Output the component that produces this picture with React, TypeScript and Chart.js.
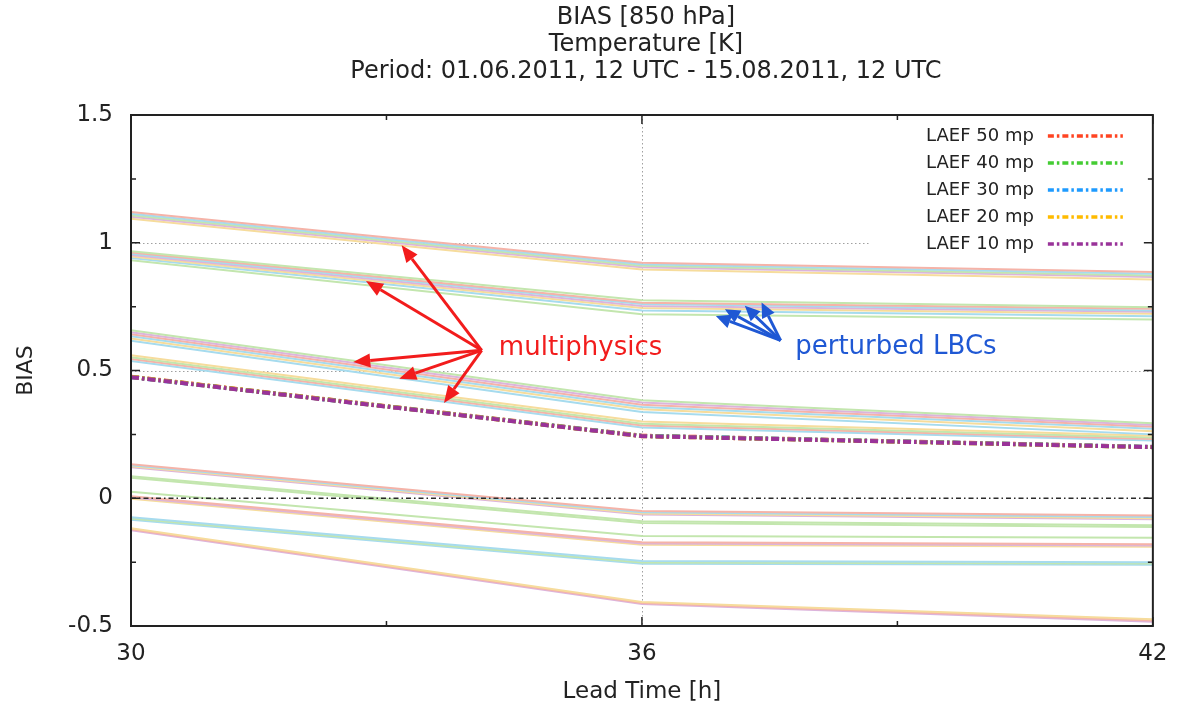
import { useEffect, useRef } from 'react';
import { Chart, registerables } from 'chart.js';

Chart.register(...registerables);

// ---------- data ----------
const leadTime = [30, 36, 42];
const xTickValues = [30, 36, 42];
const xMinorTicks = [33, 39];
const yTickValues = [-0.5, 0, 0.5, 1, 1.5];
const yTickLabels = ['-0.5', '0', '0.5', '1', '1.5'];
const yMinorTicks = [-0.25, 0.25, 0.75, 1.25];
const xGridValues = [36];
const yGridValues = [0.5, 1];

const titleLines = ['BIAS [850 hPa]', 'Temperature [K]', 'Period: 01.06.2011, 12 UTC - 15.08.2011, 12 UTC'];

const laefLabels = ['LAEF 50 mp', 'LAEF 40 mp', 'LAEF 30 mp', 'LAEF 20 mp', 'LAEF 10 mp'];
const laef50 = [0.476, 0.245, 0.201];
const laef40 = [0.475, 0.244, 0.2];
const laef30 = [0.474, 0.244, 0.201];
const laef20 = [0.475, 0.243, 0.2];
const laef10 = [0.474, 0.243, 0.2];
const zeroLine = [0, 0, 0];

// individual members (values at 30 h, 36 h, 42 h)
const membersA = [[1.12, 0.922, 0.886], [1.114, 0.916, 0.879], [1.108, 0.91, 0.872], [1.102, 0.904, 0.866], [1.094, 0.895, 0.856]];
const membersB = [[0.967, 0.775, 0.748], [0.962, 0.765, 0.742], [0.957, 0.76, 0.735], [0.952, 0.752, 0.73], [0.946, 0.745, 0.722], [0.94, 0.735, 0.712], [0.932, 0.72, 0.7]];
const membersC = [[0.658, 0.384, 0.294], [0.65, 0.375, 0.287], [0.642, 0.366, 0.28], [0.634, 0.357, 0.272], [0.625, 0.348, 0.262], [0.616, 0.338, 0.25]];
const membersD = [[0.56, 0.3, 0.245], [0.552, 0.292, 0.238], [0.545, 0.285, 0.232], [0.537, 0.277, 0.226]];
const membersE = [[0.133, -0.05, -0.068], [0.129, -0.055, -0.073], [0.125, -0.06, -0.078], [0.121, -0.064, -0.082]];
const membersF = [[0.086, -0.09, -0.106], [0.08, -0.097, -0.113]];
const membersG = [[0.025, -0.148, -0.155]];
const membersH = [[0.008, -0.172, -0.18], [0.003, -0.177, -0.185], [-0.002, -0.182, -0.19]];
const membersI = [[-0.074, -0.246, -0.25], [-0.079, -0.251, -0.255], [-0.084, -0.256, -0.26]];
const membersJ = [[-0.117, -0.406, -0.474], [-0.121, -0.41, -0.478], [-0.125, -0.414, -0.483]];

// annotations (data coordinates)
const mpLabel = 'multiphysics';
const mpOrigin = [34.118, 0.579];
const mpTargets = [[33.178, 0.99], [32.759, 0.85], [32.61, 0.533], [33.15, 0.468], [33.675, 0.373]];
const mpLabelPos = [34.32, 0.562];
const lbcLabel = 'perturbed LBCs';
const lbcOrigin = [37.628, 0.618];
const lbcTargets = [[36.868, 0.713], [36.974, 0.74], [37.208, 0.753], [37.405, 0.766]];
const lbcLabelPos = [37.8, 0.566];

// ---------- styles ----------
const FONT = "'DejaVu Sans', sans-serif";
const laefColors = ['#ff4422', '#44cc33', '#1e9bff', '#ffbb00', '#993399'];
const palette = ['#f5b3a8', '#c3e6ae', '#a6dbee', '#f6dc9c', '#dcb4dc'];
const groups = [
  { m: membersA, c: [0, 2, 1, 4, 3] },
  { m: membersB, c: [1, 0, 2, 4, 3, 2, 1] },
  { m: membersC, c: [1, 4, 0, 2, 3, 2] },
  { m: membersD, c: [3, 1, 0, 2] },
  { m: membersE, c: [0, 2, 3, 4] },
  { m: membersF, c: [1, 1] },
  { m: membersG, c: [1] },
  { m: membersH, c: [0, 4, 3] },
  { m: membersI, c: [2, 1, 2] },
  { m: membersJ, c: [3, 0, 4] },
];

function drawArrow(ctx: CanvasRenderingContext2D, x0: number, y0: number, x1: number, y1: number, color: string, width: number, headLen: number, headW: number) {
  const ang = Math.atan2(y1 - y0, x1 - x0);
  const bx = x1 - headLen * Math.cos(ang);
  const by = y1 - headLen * Math.sin(ang);
  ctx.strokeStyle = color;
  ctx.fillStyle = color;
  ctx.lineWidth = width;
  ctx.setLineDash([]);
  ctx.beginPath();
  ctx.moveTo(x0, y0);
  ctx.lineTo(bx, by);
  ctx.stroke();
  ctx.beginPath();
  ctx.moveTo(x1, y1);
  ctx.lineTo(bx + headW * Math.sin(ang), by - headW * Math.cos(ang));
  ctx.lineTo(bx - headW * Math.sin(ang), by + headW * Math.cos(ang));
  ctx.closePath();
  ctx.fill();
}

const decorPlugin = {
  id: 'decor',
  beforeDatasetsDraw(chart: any) {
    const { ctx, chartArea: a, scales } = chart;
    const x = scales.x, y = scales.y;
    ctx.save();
    ctx.strokeStyle = '#a0a0a0';
    ctx.lineWidth = 1;
    ctx.setLineDash([1.5, 2.5]);
    yGridValues.forEach((v) => {
      const py = Math.round(y.getPixelForValue(v)) + 0.5;
      ctx.beginPath(); ctx.moveTo(a.left, py); ctx.lineTo(a.right, py); ctx.stroke();
    });
    xGridValues.forEach((v) => {
      const px = Math.round(x.getPixelForValue(v)) + 0.5;
      ctx.beginPath(); ctx.moveTo(px, a.top); ctx.lineTo(px, a.bottom); ctx.stroke();
    });
    ctx.restore();
  },
  afterDatasetsDraw(chart: any) {
    const { ctx, chartArea: a, scales } = chart;
    const x = scales.x, y = scales.y;
    ctx.save();

    // title
    ctx.fillStyle = '#222';
    ctx.font = `24px ${FONT}`;
    ctx.textAlign = 'center';
    ctx.textBaseline = 'middle';
    const cx = (a.left + a.right) / 2 + 4;
    titleLines.forEach((t, i) => ctx.fillText(t, cx, 18 + i * 27));

    // legend
    ctx.fillStyle = '#ffffff';
    ctx.fillRect(a.right - 283, a.top + 2, 281, 139);
    ctx.font = `18px ${FONT}`;
    ctx.textAlign = 'right';
    ctx.textBaseline = 'middle';
    laefLabels.forEach((lab, i) => {
      const ly = a.top + 21 + i * 27;
      ctx.fillStyle = '#222';
      ctx.fillText(lab, a.right - 119, ly);
      ctx.strokeStyle = laefColors[i];
      ctx.lineWidth = 3.5;
      ctx.setLineDash([6, 3, 2.5, 3]);
      ctx.beginPath(); ctx.moveTo(a.right - 105, ly); ctx.lineTo(a.right - 30, ly); ctx.stroke();
    });

    // frame and inward ticks
    ctx.setLineDash([]);
    ctx.strokeStyle = '#222';
    ctx.lineWidth = 2;
    ctx.strokeRect(a.left, a.top, a.right - a.left, a.bottom - a.top);
    ctx.lineWidth = 1.5;
    const tick = (px: number, len: number) => {
      ctx.beginPath();
      ctx.moveTo(px, a.bottom); ctx.lineTo(px, a.bottom - len);
      ctx.moveTo(px, a.top); ctx.lineTo(px, a.top + len);
      ctx.stroke();
    };
    const ytick = (py: number, len: number) => {
      ctx.beginPath();
      ctx.moveTo(a.left, py); ctx.lineTo(a.left + len, py);
      ctx.moveTo(a.right, py); ctx.lineTo(a.right - len, py);
      ctx.stroke();
    };
    xTickValues.forEach((v) => tick(x.getPixelForValue(v), 9));
    xMinorTicks.forEach((v) => tick(x.getPixelForValue(v), 5));
    yTickValues.forEach((v) => ytick(y.getPixelForValue(v), 9));
    yMinorTicks.forEach((v) => ytick(y.getPixelForValue(v), 5));

    // annotations
    const red = '#f21c1c';
    const blue = '#1f58d4';
    const ox = x.getPixelForValue(mpOrigin[0]), oy = y.getPixelForValue(mpOrigin[1]);
    mpTargets.forEach(([tx, ty]) => drawArrow(ctx, ox, oy, x.getPixelForValue(tx), y.getPixelForValue(ty), red, 3, 17, 7));
    const bx = x.getPixelForValue(lbcOrigin[0]), by = y.getPixelForValue(lbcOrigin[1]);
    lbcTargets.forEach(([tx, ty]) => drawArrow(ctx, bx, by, x.getPixelForValue(tx), y.getPixelForValue(ty), blue, 3, 15, 7));
    ctx.textAlign = 'left';
    ctx.textBaseline = 'alphabetic';
    ctx.font = `26px ${FONT}`;
    ctx.fillStyle = red;
    ctx.fillText(mpLabel, x.getPixelForValue(mpLabelPos[0]), y.getPixelForValue(mpLabelPos[1]));
    ctx.fillStyle = blue;
    ctx.fillText(lbcLabel, x.getPixelForValue(lbcLabelPos[0]), y.getPixelForValue(lbcLabelPos[1]));
    ctx.restore();
  },
};

export default function App() {
  const ref = useRef<HTMLCanvasElement | null>(null);

  useEffect(() => {
    if (!ref.current) return;
    const toPts = (vals: number[]) => vals.map((v, i) => ({ x: leadTime[i], y: v }));
    const datasets: any[] = [];
    groups.forEach((g) => {
      g.m.forEach((vals, i) => {
        datasets.push({
          label: 'member',
          data: toPts(vals),
          borderColor: palette[g.c[i % g.c.length]],
          borderWidth: 2,
          pointRadius: 0,
          tension: 0,
          order: 20,
        });
      });
    });
    datasets.push({
      label: 'zero',
      data: toPts(zeroLine),
      borderColor: '#2a2a2a',
      borderWidth: 1.6,
      borderDash: [5, 3, 1.5, 3],
      pointRadius: 0,
      order: 10,
    });
    [laef50, laef40, laef30, laef20, laef10].forEach((vals, i) => {
      datasets.push({
        label: laefLabels[i],
        data: toPts(vals),
        borderColor: laefColors[i],
        borderWidth: 4,
        borderDash: [8, 3, 2.5, 3],
        pointRadius: 0,
        order: 5 - i,
      });
    });

    const chart = new Chart(ref.current, {
      type: 'line',
      data: { datasets },
      plugins: [decorPlugin],
      options: {
        animation: false,
        responsive: false,
        devicePixelRatio: 1,
        layout: { padding: { left: 0, right: 29, top: 115, bottom: 0 } },
        plugins: {
          legend: { display: false },
          tooltip: { enabled: false },
          title: { display: false },
        },
        scales: {
          x: {
            type: 'linear',
            min: 30,
            max: 42,
            afterBuildTicks: (s: any) => { s.ticks = xTickValues.map((v) => ({ value: v })); },
            afterFit: (s: any) => { s.height = 86; },
            ticks: { color: '#222', font: { family: FONT, size: 23, lineHeight: 1.174 }, padding: 14.5, maxRotation: 0 },
            grid: { display: false, drawTicks: false },
            border: { display: false },
            title: { display: true, text: 'Lead Time [h]', color: '#222', font: { family: FONT, size: 23, lineHeight: 1.174 }, padding: { top: 0, bottom: 6 } },
          },
          y: {
            type: 'linear',
            min: -0.5,
            max: 1.5,
            afterBuildTicks: (s: any) => { s.ticks = yTickValues.map((v) => ({ value: v })); },
            afterFit: (s: any) => { s.width = 131; },
            ticks: {
              color: '#222',
              font: { family: FONT, size: 23, lineHeight: 1.174 },
              padding: 18,
              callback: (v: any) => { const k = yTickValues.indexOf(Number(v)); return k >= 0 ? yTickLabels[k] : ''; },
            },
            grid: { display: false, drawTicks: false },
            border: { display: false },
            title: { display: true, text: 'BIAS', color: '#222', font: { family: FONT, size: 22, lineHeight: 1.174 }, padding: { top: 13, bottom: 0 } },
          },
        },
      },
    } as any);
    return () => chart.destroy();
  }, []);

  return (
    <div style={{ position: 'fixed', left: 0, top: 0, width: 1182, height: 712, background: '#ffffff' }}>
      <canvas ref={ref} width={1182} height={712} style={{ display: 'block' }} />
    </div>
  );
}
